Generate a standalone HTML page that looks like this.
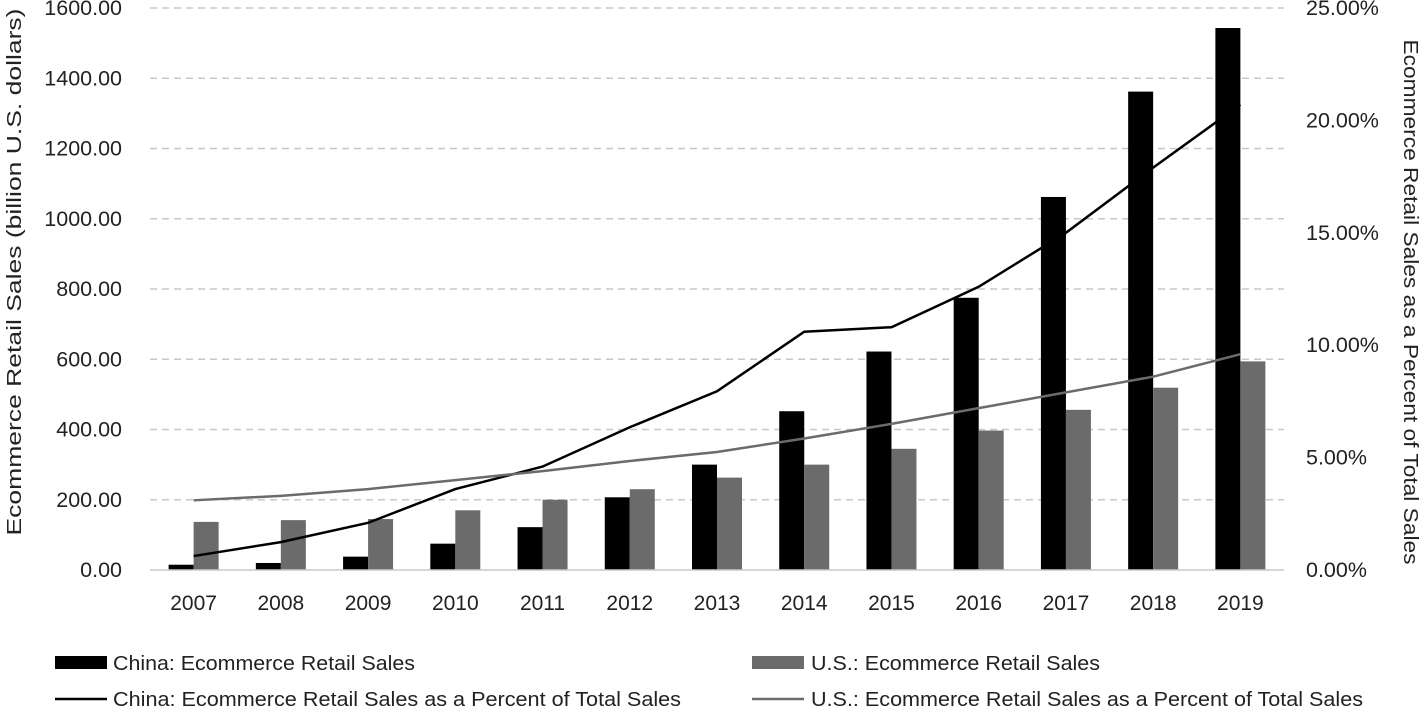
<!DOCTYPE html>
<html><head><meta charset="utf-8"><style>
body{margin:0;background:#fff;}
svg text{font-family:"Liberation Sans",sans-serif;fill:#222;}
</style></head><body>
<svg id="chart" width="1425" height="708" xmlns="http://www.w3.org/2000/svg">
<g id="grid"></g>
<g id="bars"></g>
<g id="lines"></g>
<g id="axes"></g>
<text transform="translate(21,272) rotate(-90)" text-anchor="middle" font-size="20" textLength="527" lengthAdjust="spacingAndGlyphs">Ecommerce Retail  Sales (billion U.S. dollars)</text>
<text transform="translate(1404,302) rotate(90)" text-anchor="middle" font-size="20" textLength="525" lengthAdjust="spacingAndGlyphs">Ecommerce Retail Sales as a Percent of Total Sales</text>
<g>
<rect x="55" y="656" width="52" height="13" fill="#000"/>
<text x="113" y="670" font-size="20" textLength="302" lengthAdjust="spacingAndGlyphs">China: Ecommerce Retail Sales</text>
<rect x="752" y="656" width="52" height="13" fill="#6b6b6b"/>
<text x="811" y="670" font-size="20" textLength="289" lengthAdjust="spacingAndGlyphs">U.S.: Ecommerce Retail Sales</text>
<line x1="55" y1="699" x2="107" y2="699" stroke="#000" stroke-width="2.5"/>
<text x="113" y="706" font-size="20" textLength="568" lengthAdjust="spacingAndGlyphs">China: Ecommerce Retail Sales as a Percent of Total Sales</text>
<line x1="752" y1="699" x2="804" y2="699" stroke="#6b6b6b" stroke-width="2.5"/>
<text x="811" y="706" font-size="20" textLength="552" lengthAdjust="spacingAndGlyphs">U.S.: Ecommerce Retail Sales as a Percent of Total Sales</text>
</g>
</svg>
<script>
const years=["2007","2008","2009","2010","2011","2012","2013","2014","2015","2016","2017","2018","2019"];
const chinaSales=[15,20,38,75,122,207,300,452,622,775,1062,1362,1543];
const usSales=[137,142,145,170,200,230,263,300,345,397,456,519,594];
const chinaPct=[0.62,1.24,2.1,3.6,4.6,6.35,7.95,10.6,10.8,12.6,15.0,17.9,20.7];
const usPct=[3.1,3.3,3.6,4.0,4.4,4.85,5.25,5.85,6.5,7.2,7.9,8.6,9.6];
const leftTicks=[0,200,400,600,800,1000,1200,1400,1600];
const rightTicks=[0,5,10,15,20,25];

const NS="http://www.w3.org/2000/svg";
const X0=150,X1=1284,Y0=570,Y1=8;
const bw=(X1-X0)/years.length;
const yL=v=>Y0-(v/1600)*(Y0-Y1);
const yR=v=>Y0-(v/25)*(Y0-Y1);
const xC=i=>X0+bw*(i+0.5);
function mk(tag,attrs,parent){const e=document.createElementNS(NS,tag);for(const k in attrs)e.setAttribute(k,attrs[k]);parent.appendChild(e);return e;}
const grid=document.getElementById('grid'),bars=document.getElementById('bars'),lines=document.getElementById('lines'),axes=document.getElementById('axes');
leftTicks.forEach(t=>{
  if(t>0){const g=mk('line',{x1:X0,x2:X1,y1:yL(t),y2:yL(t),stroke:'#c8c8c8','stroke-width':1.5,'stroke-dasharray':'7 5'},grid);
  
  }
  const tx=mk('text',{x:122,y:yL(t)+7,'text-anchor':'end','font-size':21.5},axes);tx.textContent=t.toFixed(2);
  
  
});
rightTicks.forEach(t=>{
  const tx=mk('text',{x:1306,y:yR(t)+7,'font-size':21.5},axes);tx.textContent=t.toFixed(2)+'%';
  
  
});
const base=mk('line',{x1:X0,x2:X1,y1:Y0,y2:Y0,stroke:'#c8c8c8','stroke-width':1.5},axes);


years.forEach((y,i)=>{
  const c=xC(i);
  const b1=mk('rect',{x:c-25,y:yL(chinaSales[i]),width:25,height:Y0-yL(chinaSales[i]),fill:'#000'},bars);
  
  
  const b2=mk('rect',{x:c,y:yL(usSales[i]),width:25,height:Y0-yL(usSales[i]),fill:'#6b6b6b'},bars);
  
  
  const tx=mk('text',{x:c,y:610,'text-anchor':'middle','font-size':21},axes);tx.textContent=y;
  
  
});
const l1=mk('polyline',{points:chinaPct.map((v,i)=>xC(i)+','+yR(v)).join(' '),fill:'none',stroke:'#000','stroke-width':2.5},lines);


const l2=mk('polyline',{points:usPct.map((v,i)=>xC(i)+','+yR(v)).join(' '),fill:'none',stroke:'#6b6b6b','stroke-width':2.5},lines);


</script>
</body></html>
